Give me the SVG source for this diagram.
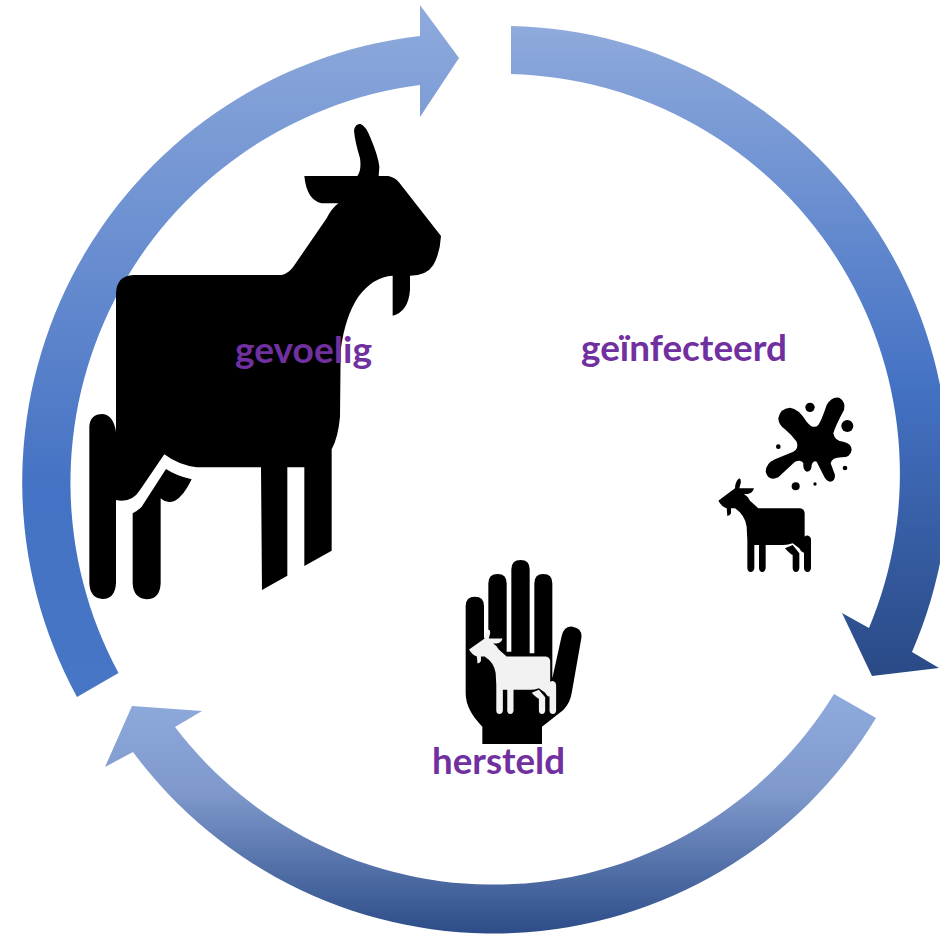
<svg xmlns="http://www.w3.org/2000/svg" xmlns:xlink="http://www.w3.org/1999/xlink" width="940" height="938" viewBox="0 0 940 938">
<style>
.lbl{font-family:"Lato","Liberation Sans",sans-serif;font-weight:700;font-size:36px;fill:#7030A0}
.blk{fill:#000}
.pale{fill:#F2F2F2}
</style>
<defs>
<linearGradient id="gLeft" gradientUnits="userSpaceOnUse" x1="0" y1="5" x2="0" y2="697">
<stop offset="0" stop-color="#8FAADC"/><stop offset="0.7" stop-color="#4472C4"/><stop offset="1" stop-color="#4776C6"/>
</linearGradient>
<linearGradient id="gRight" gradientUnits="userSpaceOnUse" x1="0" y1="26" x2="0" y2="676">
<stop offset="0" stop-color="#8FAADC"/><stop offset="0.55" stop-color="#4472C4"/><stop offset="1" stop-color="#2A4A86"/>
</linearGradient>
<linearGradient id="gBottom" gradientUnits="userSpaceOnUse" x1="0" y1="694" x2="0" y2="938">
<stop offset="0" stop-color="#8FAADC"/><stop offset="0.4" stop-color="#7F99CC"/><stop offset="1" stop-color="#2A4A86"/>
</linearGradient>
<g id="smallGoat">
<path d="M105,325Q105,305 118,295Q124,297 122,310L118,325L162,325Q158,340 143,342L132,342Q145,350 150,362L175,385L300,385Q313,387 314,400L314,470Q318,465 325,467Q333,470 333,480L333,565Q331,576 323,576Q313,576 312,565L312,518Q305,518 298,505L278,490Q265,495 250,495L197,495L197,565Q195,576 187,576Q178,576 177,565L177,495L163,495L163,565Q161,576 152,576Q143,576 142,565L142,480L140,440Q135,405 105,385L93,385L93,400Q90,408 82,408L80,385Q65,380 55,362Z"/>
<path d="M278,495L298,520L298,565Q296,576 288,576Q279,576 278,565L278,525Q270,522 255,505Z"/>
</g>
</defs>
<g id="connectors">
<path id="arrow-left" fill="url(#gLeft)" d="M77,697A449,449 0 0 1 420,36L420,5L459,58L420,117L420,85A401,401 0 0 0 118.5,673Z"/>
<path id="arrow-right" fill="url(#gRight)" d="M511,26A448,448 0 0 1 912,652L939,668L872,676L842,613L869,628A400,400 0 0 0 511,74Z"/>
<path id="arrow-bottom" fill="url(#gBottom)" d="M876,718A448,448 0 0 1 133,752L105,767L132,706L202,711L175,727A400,400 0 0 0 834,694Z"/>
</g>
<g id="node-gevoelig">
<g class="blk" transform="translate(80,110) scale(0.33333)">
<path d="M822,62Q825,40 842,42Q858,48 872,85Q895,140 898,170L896,198L925,198Q945,202 958,218L1083,378Q1080,430 1060,465Q1040,497 990,497L990,540Q985,605 938,617L938,497Q880,500 835,560Q795,620 782,720L780,920Q775,980 755,1018L755,1322L673,1368L673,1072L622,1072L622,1397L546,1440L543,1072L350,1072Q295,1065 253,1033L180,1140Q155,1180 108,1170L108,1420Q105,1467 68,1467Q30,1465 28,1420L28,950Q30,912 68,912Q100,915 108,965L108,550Q110,497 160,495L605,495Q625,490 640,470L740,325Q755,295 775,280L725,280Q680,270 673,198L832,198Q845,180 840,145Q825,95 822,62Z"/>
<path d="M258,1077Q290,1098 335,1108Q310,1160 285,1172Q260,1182 242,1165L242,1420Q240,1468 200,1468Q160,1465 158,1420L158,1210Q170,1205 185,1190Z"/>
</g>
<text class="lbl" x="235" y="363" textLength="137" lengthAdjust="spacingAndGlyphs">gevoelig</text>
</g>
<g id="node-geinfecteerd">
<g class="blk" transform="translate(700,380) scale(0.33333)">
<use xlink:href="#smallGoat" href="#smallGoat"/>
<path d="M235,115Q240,85 270,83Q295,85 320,125Q340,150 355,135Q365,120 380,75Q395,48 418,53Q438,65 432,90Q405,140 400,160Q405,185 430,185Q455,190 455,210Q452,232 425,232Q395,232 392,250L405,285Q405,305 390,305Q378,303 370,285L350,245Q340,240 335,255Q335,275 320,275Q308,270 310,250Q305,237 285,245L235,292Q205,305 197,275Q198,250 225,238L280,215Q297,205 290,185Q275,165 255,148Q235,135 235,115Z"/>
<circle cx="330" cy="82" r="14"/><circle cx="442" cy="138" r="18"/><circle cx="235" cy="200" r="7"/><circle cx="435" cy="264" r="7"/><circle cx="287" cy="319" r="12"/><circle cx="345" cy="312" r="5"/>
</g>
<text class="lbl" x="581" y="361" textLength="206" lengthAdjust="spacingAndGlyphs">geïnfecteerd</text>
</g>
<g id="node-hersteld">
<g transform="translate(420,550) scale(0.33333)">
<path class="blk" d="M137,168Q137,140 165,140Q192,140 192,168L192,265L205,265L205,100Q205,72 233,72Q260,72 260,100L260,305L274,305L274,58Q274,30 302,30Q329,30 329,58L329,310L343,310L343,100Q343,72 370,72Q397,72 397,100L397,385L425,258Q432,228 458,230Q488,235 484,265L455,430Q450,460 430,480L366,530L366,582L187,582L187,530Q137,480 137,430Z"/>
</g>
<g class="pale" transform="translate(451.8,540.5) scale(0.3133,0.3013)">
<use xlink:href="#smallGoat" href="#smallGoat"/>
</g>
<text class="lbl" x="432" y="774" textLength="133" lengthAdjust="spacingAndGlyphs">hersteld</text>
</g>
</svg>
